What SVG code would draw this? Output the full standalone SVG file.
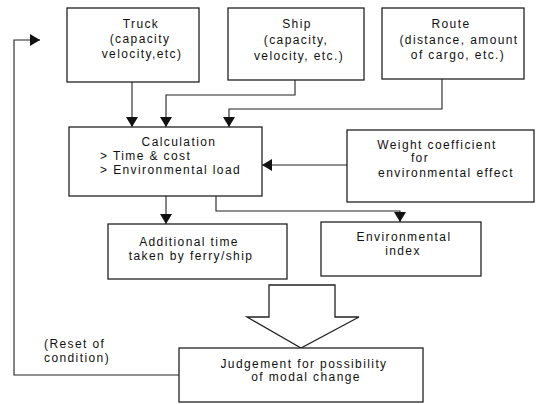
<svg xmlns="http://www.w3.org/2000/svg" width="544" height="404" viewBox="0 0 544 404">
<defs>
<marker id="ah" viewBox="0 0 10 12" refX="10" refY="6" markerWidth="10" markerHeight="12" markerUnits="userSpaceOnUse" orient="auto">
<path d="M0,0 L10,6 L0,12 Z" fill="#111"/>
</marker>
</defs>
<style>
.box{fill:#fff;stroke:#222;stroke-width:1.3}
.ln{fill:none;stroke:#222;stroke-width:1.1}
text{font-family:"Liberation Sans",Arial,sans-serif;font-size:12px;letter-spacing:1.4px;fill:#111}
.m{text-anchor:middle}
</style>
<rect width="544" height="404" fill="#fff"/>
<g id="connectors">
<path class="ln" d="M132,82 V127" marker-end="url(#ah)"/>
<path class="ln" d="M295,80 V95 H166 V127" marker-end="url(#ah)"/>
<path class="ln" d="M442,79 V109 H229 V127" marker-end="url(#ah)"/>
<path class="ln" d="M347,165 H262" marker-end="url(#ah)"/>
<path class="ln" d="M166,196 V224" marker-end="url(#ah)"/>
<path class="ln" d="M216,196 V211 H400 V222" marker-end="url(#ah)"/>
<path class="ln" d="M179,375 H14 V40 H40" marker-end="url(#ah)"/>
<polygon class="box" points="269,285 335,285 335,317 359,317 301,348 247,317 269,317"/>
</g>
<g id="truck">
<rect class="box" x="67" y="8" width="132" height="74"/>
<text class="m" x="141" y="28">Truck</text>
<text class="m" x="140" y="43">(capacity</text>
<text class="m" x="142" y="58">velocity,etc)</text>
</g>
<g id="ship">
<rect class="box" x="228" y="8" width="136" height="72"/>
<text class="m" x="297" y="28">Ship</text>
<text class="m" x="296" y="44">(capacity,</text>
<text class="m" x="299" y="60">velocity, etc.)</text>
</g>
<g id="route">
<rect class="box" x="382" y="8" width="142" height="71"/>
<text class="m" x="451" y="28">Route</text>
<text class="m" x="459" y="44">(distance, amount</text>
<text class="m" x="458" y="59">of cargo, etc.)</text>
</g>
<g id="calculation">
<rect class="box" x="69" y="127" width="193" height="69"/>
<text class="m" x="179" y="146">Calculation</text>
<text x="100" y="160">&gt; Time &amp; cost</text>
<text x="100" y="174">&gt; Environmental load</text>
</g>
<g id="weight">
<rect class="box" x="347" y="130" width="187" height="72"/>
<text class="m" x="437" y="149">Weight coefficient</text>
<text class="m" x="420" y="162">for</text>
<text class="m" x="446" y="177">environmental effect</text>
</g>
<g id="additional">
<rect class="box" x="108" y="224" width="179" height="55"/>
<text class="m" x="189" y="246">Additional time</text>
<text class="m" x="191" y="260">taken by ferry/ship</text>
</g>
<g id="envindex">
<rect class="box" x="321" y="222" width="160" height="54"/>
<text class="m" x="404" y="241">Environmental</text>
<text class="m" x="403" y="255">index</text>
</g>
<g id="judgement">
<rect class="box" x="179" y="348" width="244" height="54"/>
<text class="m" x="304" y="368">Judgement for possibility</text>
<text class="m" x="306" y="381">of modal change</text>
</g>
<g id="reset">
<text x="44" y="348">(Reset of</text>
<text x="44" y="362">condition)</text>
</g>
</svg>
